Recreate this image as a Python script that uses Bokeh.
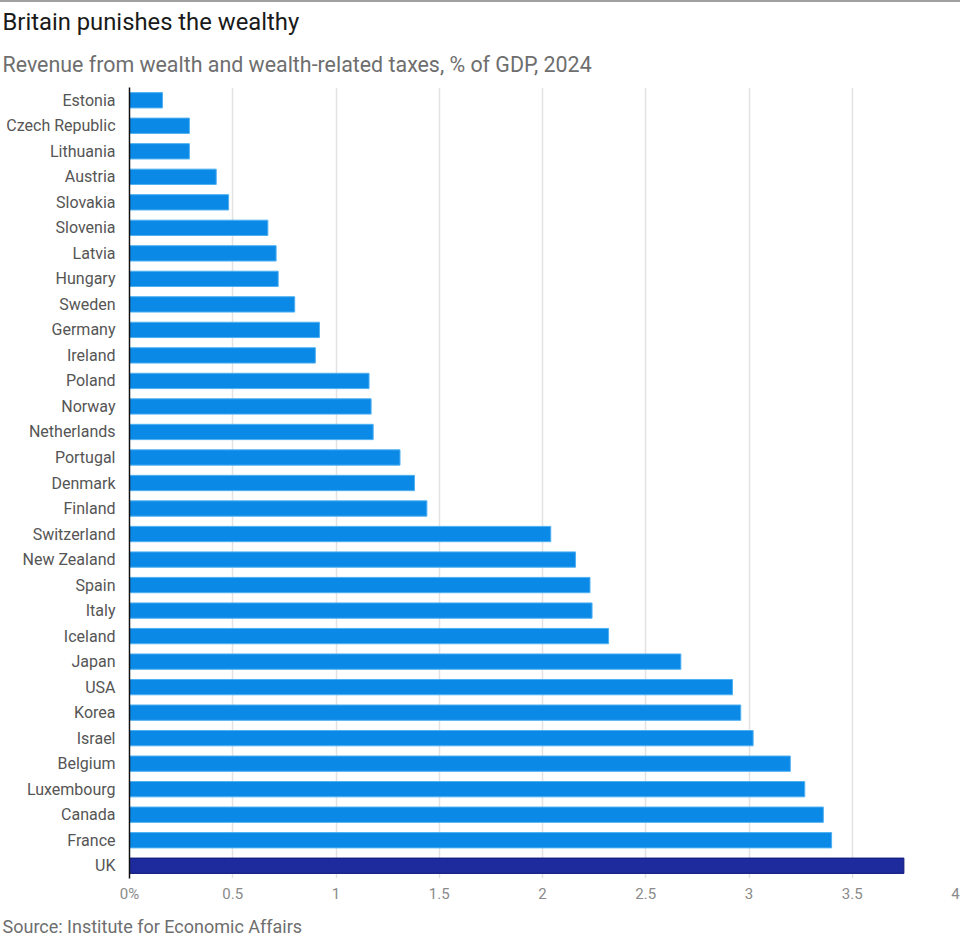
from bokeh.plotting import figure
from bokeh.models import FactorRange, Range1d, FixedTicker, Title, ColumnDataSource, Div
from bokeh.layouts import column
from bokeh.embed import file_html
from bokeh.resources import INLINE

countries = ["Estonia", "Czech Republic", "Lithuania", "Austria", "Slovakia", "Slovenia",
             "Latvia", "Hungary", "Sweden", "Germany", "Ireland", "Poland", "Norway",
             "Netherlands", "Portugal", "Denmark", "Finland", "Switzerland", "New Zealand",
             "Spain", "Italy", "Iceland", "Japan", "USA", "Korea", "Israel", "Belgium",
             "Luxembourg", "Canada", "France", "UK"]
values = [0.16, 0.29, 0.29, 0.42, 0.48, 0.67, 0.71, 0.72, 0.80, 0.92, 0.90, 1.16, 1.17,
          1.18, 1.31, 1.38, 1.44, 2.04, 2.16, 2.23, 2.24, 2.32, 2.67, 2.92, 2.96, 3.02,
          3.20, 3.27, 3.36, 3.40, 3.75]
highlight = "UK"
tick_values = [0, 0.5, 1, 1.5, 2, 2.5, 3, 3.5, 4]
tick_labels = ["0%", "0.5", "1", "1.5", "2", "2.5", "3", "3.5", "4"]

fills = ["#1e2b9c" if c == highlight else "#0a89e6" for c in countries]
lines = ["#10187a" if c == highlight else "#4fb0f2" for c in countries]
src = ColumnDataSource(dict(country=countries, value=values, fill=fills, line=lines))

LEFT = 129
p = figure(width=960, height=943, output_backend="svg", toolbar_location=None,
           y_range=FactorRange(factors=countries[::-1], range_padding=0),
           x_range=Range1d(0, 4), min_border_left=LEFT, min_border_right=5,
           min_border_top=0, min_border_bottom=0, outline_line_color=None, margin=0)

p.hbar(y="country", right="value", left=0, height=0.6, source=src,
       fill_color="fill", line_color="line", line_width=1)

p.xaxis.ticker = FixedTicker(ticks=tick_values)
p.xaxis.major_label_overrides = {t: l for t, l in zip(tick_values, tick_labels)}
p.xaxis.axis_line_color = None
p.xaxis.major_tick_line_color = None
p.xaxis.minor_tick_line_color = None
p.xaxis.major_tick_out = 0
p.xaxis.major_tick_in = 0
p.xaxis.minor_tick_out = 0
p.xaxis.major_label_text_font = "Roboto"
p.xaxis.major_label_text_font_size = "15px"
p.xaxis.major_label_text_color = "#8a8a8a"
p.xaxis.major_label_standoff = 6

p.yaxis.axis_line_color = "#111111"
p.yaxis.axis_line_width = 1.5
p.yaxis.major_tick_line_color = None
p.yaxis.minor_tick_line_color = None
p.yaxis.major_tick_out = 0
p.yaxis.major_tick_in = 0
p.yaxis.major_label_text_font = "Roboto"
p.yaxis.major_label_text_font_size = "16px"
p.yaxis.major_label_text_color = "#555555"
p.yaxis.major_label_standoff = 14

p.ygrid.grid_line_color = None
p.xgrid.grid_line_color = "#e2e2e2"
p.xgrid.grid_line_width = 1.5

sub = Title(text="Revenue from wealth and wealth-related taxes, % of GDP, 2024",
            text_font="Roboto", text_font_size="21.4px", text_font_style="normal",
            text_color="#6e6e6e", align="left", offset=-(LEFT - 2), standoff=21)
p.add_layout(sub, "above")
ttl = Title(text="Britain punishes the wealthy", text_font="Roboto", text_font_size="23.8px",
            text_font_style="normal", text_color="#1a1a1a", align="left", offset=-(LEFT - 2),
            standoff=7)
p.add_layout(ttl, "above")

source = Title(text="Source: Institute for Economic Affairs", text_font="Roboto",
               text_font_size="18px", text_font_style="normal", text_color="#6e6e6e",
               align="left", offset=-(LEFT - 2), standoff=17)
p.add_layout(source, "below")

line = Div(width=960, height=2, margin=0, styles={"background-color": "#a0a0a0"})
layout = column(line, p, spacing=0)

open("out.html", "w").write(file_html(layout, INLINE))
